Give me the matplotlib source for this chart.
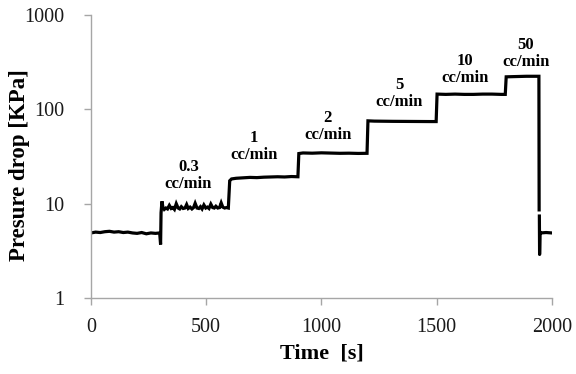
import numpy as np
import matplotlib
matplotlib.use("Agg")
import matplotlib.pyplot as plt

plt.rcParams['font.family'] = ['Liberation Serif', 'DejaVu Serif']

# ---- data ----
t_base = [0, 20, 40, 60, 80, 100, 120, 140, 160, 180, 200, 220, 240, 260, 280, 298]
p_base = [4.9, 5.0, 4.95, 5.05, 5.1, 5.0, 5.05, 4.95, 5.0, 4.9, 4.85, 4.95, 4.8, 4.9, 4.85, 4.9]

t_03 = [302, 304, 308, 312, 318, 325, 332, 340, 348, 355, 362, 370, 378, 385, 392, 400,
        408, 415, 422, 430, 438, 445, 452, 460, 468, 475, 482, 490, 498, 505, 512, 520,
        528, 535, 542, 550, 558, 565, 572, 580, 588, 596]
p_03 = [3.7, 8.0, 10.6, 9.2, 8.7, 9.0, 8.8, 9.6, 8.9, 9.1, 8.7, 10.0, 9.0, 8.8, 9.3, 8.9,
        9.0, 9.8, 8.9, 9.2, 8.8, 9.1, 10.1, 9.0, 8.9, 9.3, 8.8, 9.7, 9.0, 9.2, 8.9, 9.9,
        9.1, 9.0, 9.4, 9.0, 9.1, 10.2, 9.2, 9.0, 9.1, 9.0]

t_1 = [602, 610, 630, 660, 690, 720, 750, 780, 810, 840, 870, 898]
p_1 = [17.5, 18.3, 18.6, 18.8, 19.0, 18.9, 19.1, 19.2, 19.3, 19.2, 19.4, 19.3]

t_2 = [902, 920, 960, 1000, 1040, 1080, 1120, 1160, 1198]
p_2 = [34.0, 34.5, 34.3, 34.6, 34.4, 34.2, 34.3, 34.1, 34.2]

t_5 = [1202, 1230, 1270, 1310, 1350, 1390, 1430, 1470, 1498]
p_5 = [75.5, 75.0, 74.8, 74.6, 74.5, 74.4, 74.3, 74.2, 74.2]

t_10 = [1502, 1540, 1580, 1620, 1660, 1700, 1740, 1780, 1798]
p_10 = [145, 144, 145, 144, 144, 145, 145, 144, 144]

t_50 = [1802, 1830, 1860, 1890, 1920, 1944, 1945]
p_50 = [221, 222, 223, 224, 224, 224, 8.6]

t_end = [1946, 1947, 1949, 1950, 1952, 1975, 2000]
p_end = [7.4, 2.9, 4.9, 5.0, 4.9, 4.95, 4.9]

rate_labels = ['0.3\ncc/min', '1\ncc/min', '2\ncc/min', '5\ncc/min', '10\ncc/min', '50\ncc/min']
label_x = [423, 707, 1028, 1338, 1622, 1887]
label_y = [13.3, 27, 44, 98, 177, 262]

x_ticks = [0, 500, 1000, 1500, 2000]
y_ticks = [1, 10, 100, 1000]

# ---- plot ----
t_all = t_base + t_03 + t_1 + t_2 + t_5 + t_10 + t_50
p_all = p_base + p_03 + p_1 + p_2 + p_5 + p_10 + p_50

fig = plt.figure(figsize=(5.76, 3.74), dpi=100)
ax = fig.add_axes([0.158, 0.203, 0.8, 0.757])
ax.plot(t_all, p_all, color='black', lw=2.3, solid_joinstyle='miter')
ax.plot(t_end, p_end, color='black', lw=2.3)

for lab, x, y in zip(rate_labels, label_x, label_y):
    ax.text(x, y, lab, ha='center', va='bottom', fontsize=12, fontweight='bold',
            linespacing=1.1)

ax.set_yscale('log')
ax.set_xlim(0, 2000)
ax.set_ylim(1, 1000)
ax.set_xticks(x_ticks)
ax.set_xticklabels([str(v) for v in x_ticks])
ax.set_yticks(y_ticks)
ax.set_yticklabels([str(v) for v in y_ticks])
ax.yaxis.set_minor_locator(matplotlib.ticker.NullLocator())

for s in ['top', 'right']:
    ax.spines[s].set_visible(False)
for s in ['left', 'bottom']:
    ax.spines[s].set_color('#a6a6a6')
    ax.spines[s].set_linewidth(1.0)
ax.tick_params(axis='both', colors='#a6a6a6', labelcolor='#1a1a1a', labelsize=14.5,
               length=5, width=1.0, direction='out')
ax.tick_params(axis='x', pad=9)
ax.tick_params(axis='y', pad=14)

ax.set_xlabel('Time  [s]', fontsize=16, fontweight='bold', labelpad=5)
ax.set_ylabel('Presure drop [KPa]', fontsize=16.5, fontweight='bold')
ax.yaxis.set_label_coords(-0.132, 0.47)

fig.savefig('out.png', dpi=100)
